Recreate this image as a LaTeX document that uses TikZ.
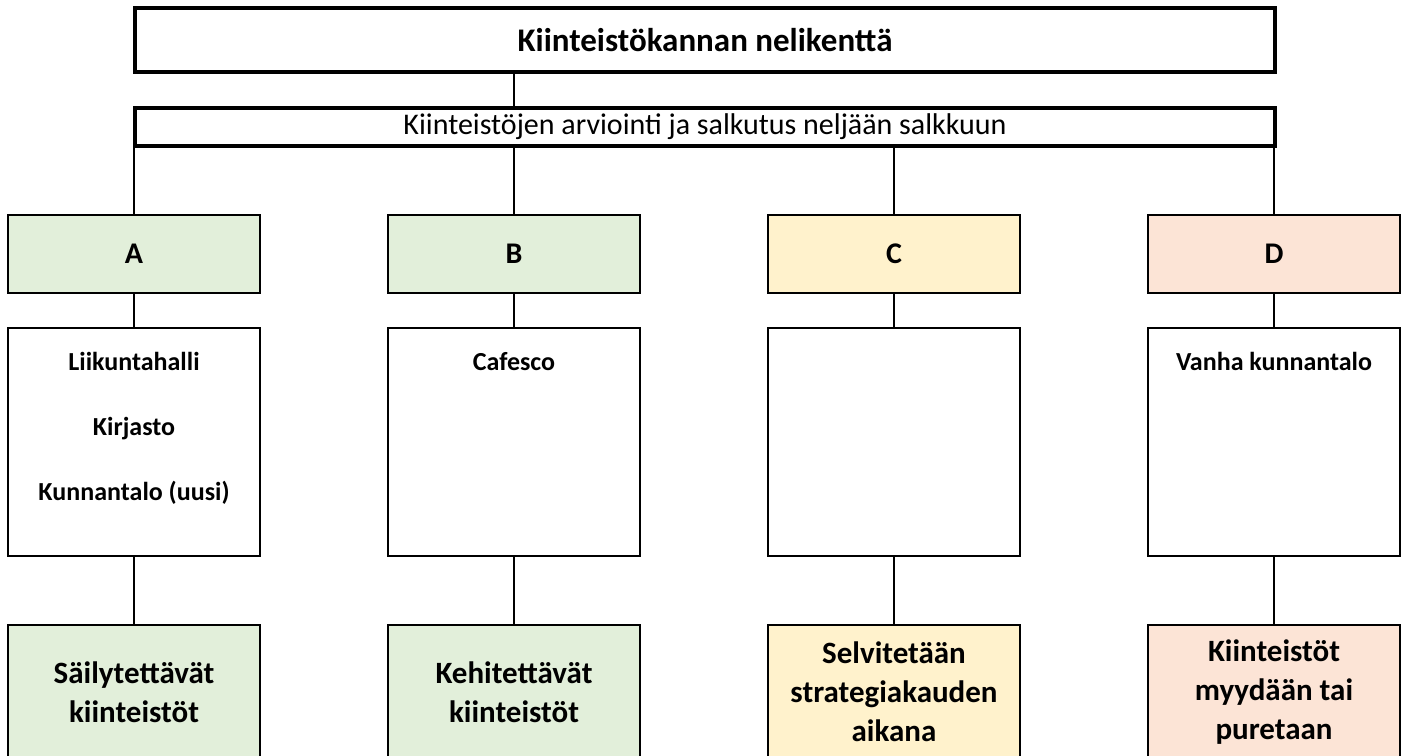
\documentclass[tikz,border=0pt]{standalone}
\usepackage{fontspec}
\setmainfont{Carlito}
\usepackage{xcolor}
\usepackage{tikz}
\usetikzlibrary{positioning}
\definecolor{salkkuA}{HTML}{E2EFDA}
\definecolor{salkkuC}{HTML}{FFF2CC}
\definecolor{salkkuD}{HTML}{FCE4D6}
\tikzset{every picture/.style={x=1pt,y=-1pt},
  otsikko/.style={rectangle, draw=black, line width=3.5pt, minimum width=1140pt, inner sep=0pt},
  kirjain/.style={rectangle, draw=black, line width=2pt, minimum width=252pt, minimum height=78pt, font=\fontsize{30}{36}\selectfont\bfseries},
  lista/.style={rectangle, draw=black, line width=2pt, minimum width=252pt, minimum height=228pt, fill=white},
  kohteet/.style={anchor=north, inner sep=0pt, align=center, font=\fontsize{26}{65}\selectfont\bfseries},
  tulos/.style={rectangle, draw=black, line width=2pt, minimum width=252pt, minimum height=134pt, align=center, font=\fontsize{31}{39}\selectfont\bfseries},
  viiva/.style={line width=1.6pt}}

\begin{document}
\begin{tikzpicture}
        \useasboundingbox[fill=white] (0,0) rectangle (1407,755);
        \node[otsikko, minimum height=64pt, font=\fontsize{33}{38}\selectfont\bfseries] (t) at (705, 40) {Kiinteistökannan nelikenttä};
        \node[otsikko, minimum height=38pt, font=\fontsize{30}{32}\selectfont] (s) at (705, 127) {Kiinteistöjen arviointi ja salkutus neljään salkkuun};

        \node[kirjain, fill=salkkuA] (a) at (134, 254) {A};
        \node[kirjain, fill=salkkuA] (b) at (514, 254) {B};
        \node[kirjain, fill=salkkuC] (c) at (894, 254) {C};
        \node[kirjain, fill=salkkuD] (d) at (1274, 254) {D};

        \node[lista] (la) at (134, 442) {};
        \node[lista] (lb) at (514, 442) {};
        \node[lista] (lc) at (894, 442) {};
        \node[lista] (ld) at (1274, 442) {};
        \node[kohteet, below=25pt of la.north] (ka) {Liikuntahalli\\Kirjasto\\Kunnantalo (uusi)};
        \node[kohteet, below=25pt of lb.north] (kb) {Cafesco};
        \node[kohteet, below=25pt of ld.north] (kd) {Vanha kunnantalo};

        \node[tulos, fill=salkkuA] (ta) at (134, 692) {Säilytettävät\\kiinteistöt};
        \node[tulos, fill=salkkuA] (tb) at (514, 692) {Kehitettävät\\kiinteistöt};
        \node[tulos, fill=salkkuC] (tc) at (894, 692) {Selvitetään\\strategiakauden\\aikana};
        \node[tulos, fill=salkkuD] (td) at (1274, 692) {Kiinteistöt\\myydään tai\\puretaan};

        \draw[viiva] (t.south -| b) -- (s.north -| b);
        \foreach \x in {a, b, c, d}
        {
          \draw[viiva] (s.south -| \x) -- (\x);
          \draw[viiva] (\x) -- (l\x);
          \draw[viiva] (l\x) -- (t\x);
        }
\end{tikzpicture}
\end{document}
